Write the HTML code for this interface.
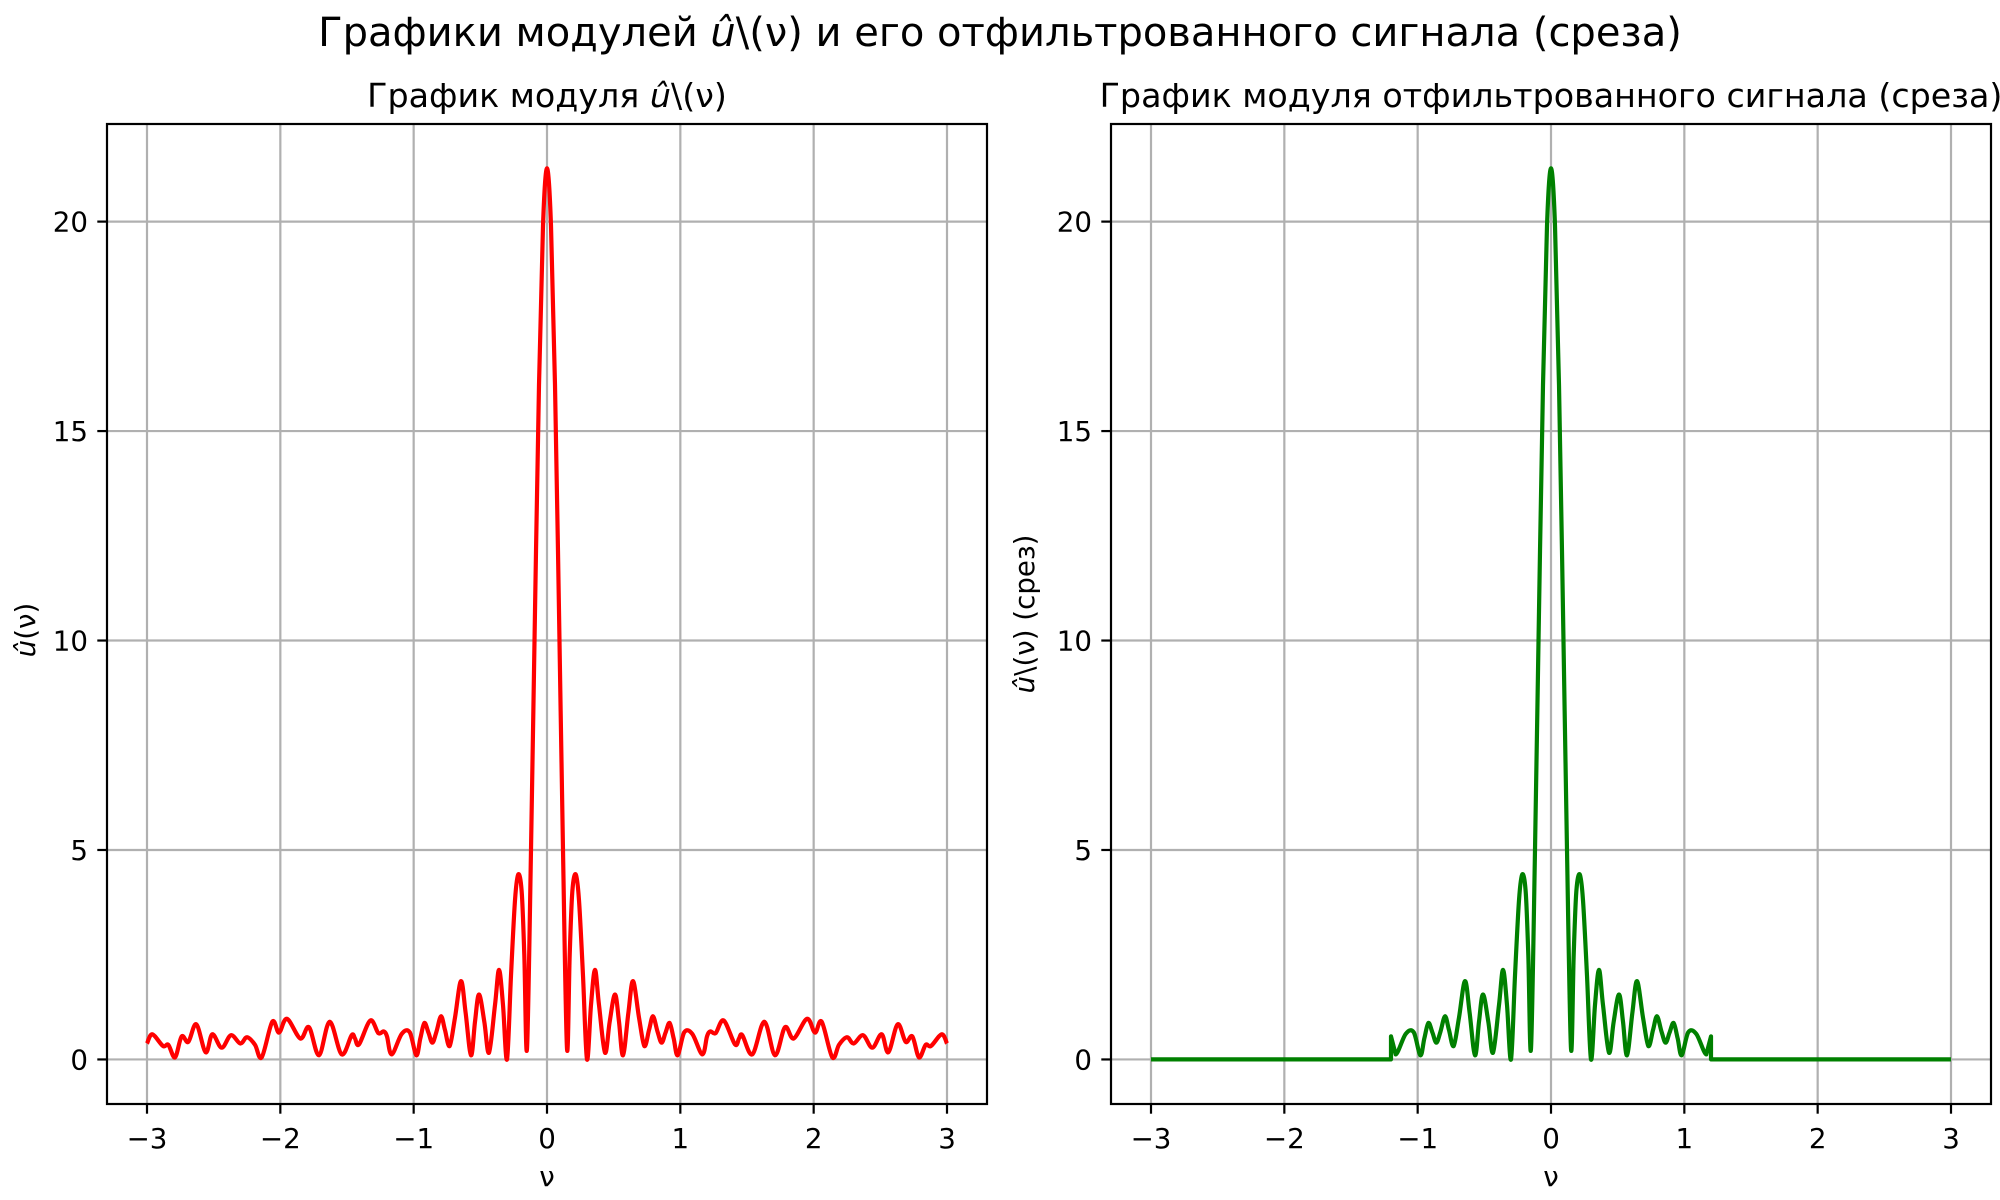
<!DOCTYPE html>
<html><head><meta charset="utf-8"><style>
html,body{margin:0;padding:0;background:#fff;}
svg{display:block;font-family:"DejaVu Sans","Liberation Sans",sans-serif;}
</style></head><body>
<svg id="fig" width="2000" height="1200" viewBox="0 0 2000 1200">
<text x="1000" y="46" font-size="40" text-anchor="middle">Графики модулей <tspan font-style="italic">û</tspan>\(ν) и его отфильтрованного сигнала (среза)</text>
</svg>
<script>
// half-spectrum samples (symmetric around 0)
const nuHalf = [0,0.03,0.06,0.09,0.12,0.15,0.17,0.19,0.215,0.24,0.27,0.30,0.33,0.36,0.39,0.435,0.47,0.51,0.54,0.57,0.61,0.645,0.69,0.73,0.765,0.795,0.83,0.86,0.89,0.92,0.95,0.98,1.03,1.09,1.165,1.2,1.225,1.265,1.325,1.41,1.44,1.465,1.54,1.63,1.71,1.785,1.85,1.95,2.01,2.06,2.14,2.19,2.25,2.30,2.37,2.44,2.51,2.56,2.63,2.69,2.74,2.79,2.84,2.88,2.96,3.0];
const ampHalf = [21.27,19.9,16.1,10.7,5.0,0.26,2.5,4.0,4.42,3.8,2.0,0.0,1.3,2.14,1.3,0.16,0.9,1.55,0.9,0.1,1.1,1.87,1.0,0.32,0.7,1.03,0.65,0.4,0.65,0.87,0.5,0.1,0.65,0.61,0.12,0.55,0.67,0.63,0.93,0.36,0.5,0.58,0.12,0.9,0.1,0.77,0.5,0.97,0.64,0.9,0.05,0.35,0.53,0.38,0.58,0.28,0.6,0.17,0.84,0.42,0.55,0.05,0.35,0.32,0.6,0.38];
const cutoff = 1.2;
const xTicks = [-3,-2,-1,0,1,2,3];
const yTicks = [0,5,10,15,20];
const xTickLabels = ["−3","−2","−1","0","1","2","3"];
const yTickLabels = ["0","5","10","15","20"];

const NS="http://www.w3.org/2000/svg";
const svg=document.getElementById('fig');
function mk(tag,attrs,parent){const e=document.createElementNS(NS,tag);for(const k in attrs)e.setAttribute(k,attrs[k]);(parent||svg).appendChild(e);return e;}

const nuAll=[],ampAll=[];
for(let i=nuHalf.length-1;i>0;i--){nuAll.push(-nuHalf[i]);ampAll.push(ampHalf[i]);}
for(let i=0;i<nuHalf.length;i++){nuAll.push(nuHalf[i]);ampAll.push(ampHalf[i]);}

function catmull(pts){
  let d=`M${pts[0][0].toFixed(1)},${pts[0][1].toFixed(1)}`;
  for(let i=0;i<pts.length-1;i++){
    const p0=pts[i-1]||pts[i],p1=pts[i],p2=pts[i+1],p3=pts[i+2]||p2;
    if(p1.sharp||p2.sharp){d+=`L${p2[0].toFixed(1)},${p2[1].toFixed(1)}`;continue;}
    const c1=[p1[0]+(p2[0]-p0[0])/6,p1[1]+(p2[1]-p0[1])/6];
    const c2=[p2[0]-(p3[0]-p1[0])/6,p2[1]-(p3[1]-p1[1])/6];
    d+=`C${c1[0].toFixed(1)},${c1[1].toFixed(1)} ${c2[0].toFixed(1)},${c2[1].toFixed(1)} ${p2[0].toFixed(1)},${p2[1].toFixed(1)}`;
  }
  return d;
}

function panel(cfg){
  const L=cfg.left,R=cfg.left+880,T=124,B=1104;
  const xmin=-3.3,xmax=3.3,ymin=-1.0635,ymax=22.33;
  const sx=v=>L+(v-xmin)/(xmax-xmin)*(R-L);
  const sy=v=>B-(v-ymin)/(ymax-ymin)*(B-T);
  const g=mk('g',{});
  
  
  xTicks.forEach((t,i)=>{
    const l=mk('line',{x1:sx(t),x2:sx(t),y1:T,y2:B,stroke:'#b0b0b0','stroke-width':2.2},g);
    
    
    const tk=mk('line',{x1:sx(t),x2:sx(t),y1:B,y2:B+9.7,stroke:'#000','stroke-width':2.2},g);
    
    
    const tx=mk('text',{x:sx(t),y:B+44,'font-size':27.7,'text-anchor':'middle'},g);
    tx.textContent=xTickLabels[i];
    
    
  });
  yTicks.forEach((t,i)=>{
    const l=mk('line',{x1:L,x2:R,y1:sy(t),y2:sy(t),stroke:'#b0b0b0','stroke-width':2.2},g);
    
    
    const tk=mk('line',{x1:L-9.7,x2:L,y1:sy(t),y2:sy(t),stroke:'#000','stroke-width':2.2},g);
    
    
    const tx=mk('text',{x:L-19,y:sy(t)+10,'font-size':27.7,'text-anchor':'end'},g);
    tx.textContent=yTickLabels[i];
    
    
  });
  let pts=[];
  if(!cfg.filtered){
    pts=nuAll.map((v,i)=>[sx(v),sy(ampAll[i])]);
  } else {
    const a=[sx(-3),sy(0)],b=[sx(-cutoff),sy(0)];a.sharp=true;b.sharp=true;pts.push(a,b);
    nuAll.forEach((v,i)=>{if(Math.abs(v)<=cutoff){const p=[sx(v),sy(ampAll[i])];if(Math.abs(v)===cutoff)p.sharp=true;pts.push(p);}});
    const c=[sx(cutoff),sy(0)],d=[sx(3),sy(0)];c.sharp=true;d.sharp=true;pts.push(c,d);
  }
  const path=mk('path',{d:catmull(pts),fill:'none',stroke:cfg.color,'stroke-width':4.2,'stroke-linejoin':'round'},g);
  
  
  const fr=mk('rect',{x:L,y:T,width:R-L,height:B-T,fill:'none',stroke:'#000','stroke-width':2.2},g);
  
  
  const ti=mk('text',{x:(L+R)/2,y:107,'font-size':33.3,'text-anchor':'middle'},g);
  ti.innerHTML=cfg.title;
  
  
  const xl=mk('text',{x:(L+R)/2,y:1186,'font-size':27.7,'text-anchor':'middle'},g);
  xl.textContent='ν';
  
  
  const yl=mk('text',{x:0,y:0,'font-size':27.7,'text-anchor':'middle',transform:`translate(${cfg.ylx},${cfg.yly}) rotate(-90)`},g);
  yl.innerHTML=cfg.ylabel;
  
  
}
panel({name:'left-panel',left:107,color:'#ff0000',filtered:false,title:'График модуля <tspan font-style="italic">û</tspan>\\(ν)',ylabel:'<tspan font-style="italic">û</tspan>(ν)',ylx:35,yly:630});
panel({name:'right-panel',left:1111,color:'#008000',filtered:true,title:'График модуля отфильтрованного сигнала (среза)',ylabel:'<tspan font-style="italic">û</tspan>\\(ν) (срез)',ylx:1034,yly:614});
</script>
</body></html>
